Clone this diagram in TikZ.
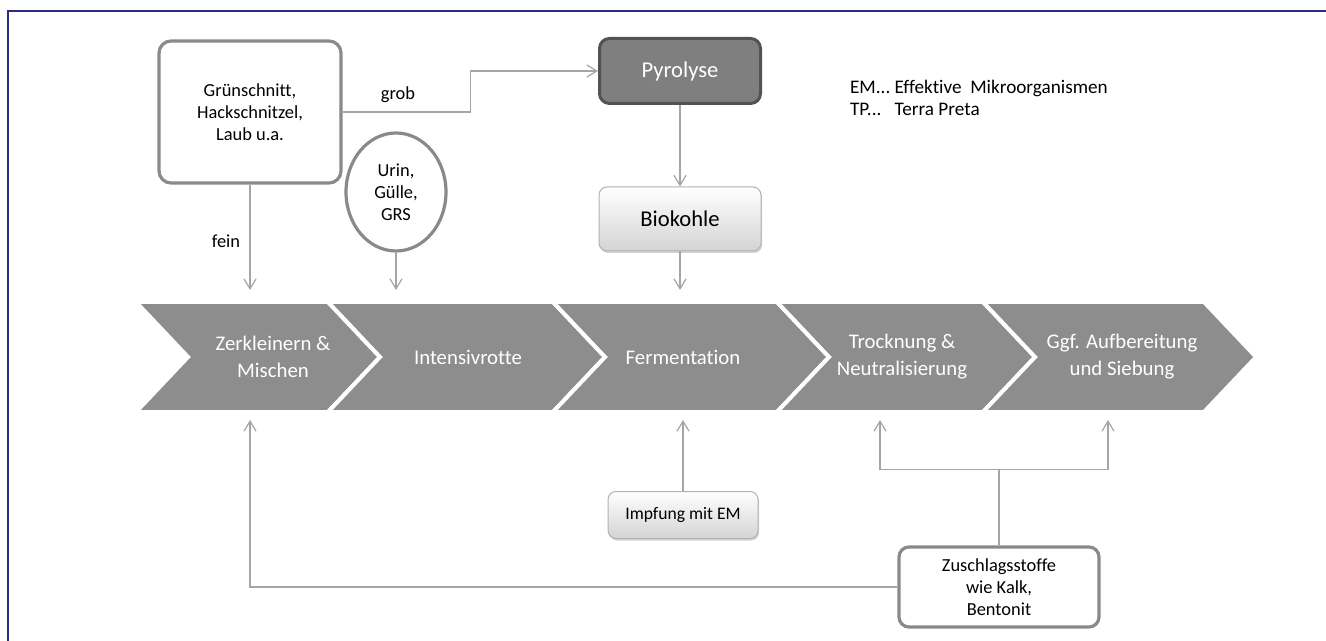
\documentclass[tikz,border=0pt]{standalone}
\usepackage{fontspec}
\setmainfont{Carlito}[Ligatures=CommonOff]
\usetikzlibrary{arrows.meta,positioning,shapes.geometric,shadows}
\definecolor{chv}{RGB}{141,141,141}
\definecolor{bxl}{RGB}{138,138,138}
\definecolor{pyf}{RGB}{127,127,127}
\definecolor{pyl}{RGB}{82,82,82}
\definecolor{lnc}{RGB}{165,165,165}
\definecolor{frm}{RGB}{45,45,128}
\tikzset{
  src/.style={rectangle,rounded corners=6pt,draw=bxl,fill=white,line width=1.6pt,inner sep=0pt,align=center,font=\fontsize{9.2}{10.9}\selectfont},
  rnd/.style={ellipse,draw=bxl,fill=white,line width=1.6pt,inner sep=0pt,align=center,font=\fontsize{9.2}{10.9}\selectfont},
  pyr/.style={rectangle,rounded corners=5pt,draw=pyl,fill=pyf,line width=1.5pt,inner sep=0pt,text=white,font=\fontsize{11.3}{13}\selectfont},
  prd/.style={rectangle,rounded corners=4pt,draw=black!30,line width=.5pt,top color=white,bottom color=black!17,inner sep=0pt,
    drop shadow={shadow xshift=.6pt,shadow yshift=-1pt,opacity=.35}},
  chev/.style={fill=chv,draw=white,line width=2pt,line join=miter},
  cl/.style={text=white,align=center,font=\fontsize{10.4}{13.5}\selectfont},
  lb/.style={font=\fontsize{9.2}{10.9}\selectfont},
  arr/.style={draw=lnc,line width=.6pt,-{Straight Barb[length=5pt,width=6pt]}},
  ln/.style={draw=lnc,line width=.6pt},
}
\begin{document}
\begin{tikzpicture}[x=0.5pt,y=-0.5pt]
\useasboundingbox (0,0) rectangle (1326,641);
\draw[frm,line width=1.1pt] (8,641) -- (8,11) -- (1326,11);
% process chain
\foreach \a/\b in {136/328, 328/553, 553/777, 777/983, 983/1204}
  \filldraw[chev] (\a,302) -- (\b,302) -- (\b+52,357) -- (\b,412) -- (\a,412) -- (\a+52,357) -- cycle;
\node[cl] (zerk)  at (273,357) {Zerkleinern \&\\Mischen};
\node[cl] (inten) at (468,357) {Intensivrotte};
\node[cl] (ferm)  at (683,357) {Fermentation};
\node[cl] (trock) at (902,357) {Trocknung \&\\Neutralisierung};
\node[cl] (aufb)  at (1122,357) {Ggf. Aufbereitung\\und Siebung};
% inputs
\node[src,minimum width=91pt,minimum height=71pt] (gruen) at (250,112) {Grünschnitt,\\Hackschnitzel,\\Laub u.a.};
\node[rnd,minimum width=50pt,minimum height=59pt] (urin) at (396,192) {Urin,\\Gülle,\\GRS};
\node[pyr,minimum width=80.5pt,minimum height=32.5pt] (pyro) at (680,71) {Pyrolyse};
\node[prd,minimum width=81pt,minimum height=32pt,font=\fontsize{11.3}{13}\selectfont] (bio) at (680,219) {Biokohle};
\node[prd,minimum width=75pt,minimum height=23.5pt,font=\fontsize{8.8}{10}\selectfont] (impf) at (683,515) {Impfung mit EM};
\node[src,rounded corners=5pt,minimum width=100pt,minimum height=40pt] (zusch) at (999,587) {Zuschlagsstoffe\\wie Kalk,\\Bentonit};
\node[lb,anchor=west,font=\fontsize{9.6}{11}\selectfont] (abk) at (843,100)
  {\begin{tabular}{@{}l@{\ }l@{}}EM... & Effektive\ \ Mikroorganismen\\TP... & Terra Preta\end{tabular}};
% arrow ends at the chain
\coordinate (zin) at (250,290);
\coordinate (uin) at (396,290);
\coordinate (fin) at (680,290);
\coordinate (zback) at (250,420);
\coordinate (fback) at (683,420);
\coordinate (tback) at (880,420);
\coordinate (aback) at (1108,420);
\draw[arr] (gruen.east) -- ++(128,0) |- (pyro.west);
\node[lb] (grob) at (398,95) {grob};
\draw[arr] (gruen.south) -- (zin);
\node[lb] (fein) at (226,241) {fein};
\draw[arr] (urin.south) -- (uin);
\draw[arr] (pyro) -- (bio);
\draw[arr] (bio.south) -- (fin);
\draw[arr] (impf.north) -- (fback);
\draw[arr] (zusch.west) -| (zback);
\draw[ln] (zusch.north) -- ++(0,-76) coordinate (br);
\draw[arr] (br) -| (tback);
\draw[arr] (br) -| (aback);
\end{tikzpicture}
\end{document}
